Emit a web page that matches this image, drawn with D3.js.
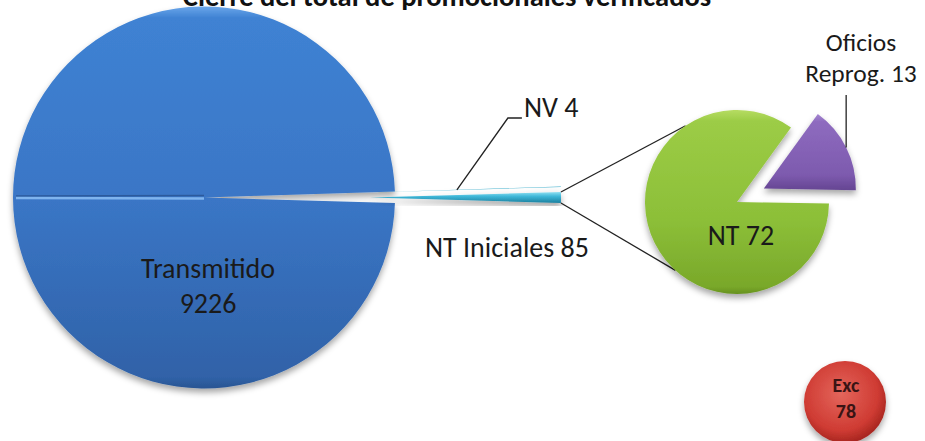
<!DOCTYPE html>
<html>
<head>
<meta charset="utf-8">
<script src="https://cdn.jsdelivr.net/npm/d3@7"></script>
<style>
  html, body { margin: 0; padding: 0; background: #fff; }
  svg { display: block; font-family: Carlito, Lato, sans-serif; }
</style>
</head>
<body>
<svg></svg>
<script>
const title = "Cierre del total de promocionales verificados";

// main pie
const mainLabels = ["Transmitido", "NV", "NT Iniciales"];
const mainValues = [9226, 4, 85];

// secondary pie (breakdown of NT Iniciales)
const subLabels = ["NT", "Oficios Reprog."];
const subValues = [72, 13];

// separate bubble
const extraLabel = "Exc";
const extraValue = 78;

const width = 925, height = 441;
const fontSize = 28;

const main = { cx: 204, cy: 197.5, r: 191, explode: 166 };
const sub = { cx: 737, cy: 202, r: 92, explode: 30 };

const svg = d3.select("svg")
    .attr("width", width)
    .attr("height", height);

const defs = svg.append("defs");

const shadow = defs.append("filter")
    .attr("id", "shadow")
    .attr("x", "-20%").attr("y", "-20%")
    .attr("width", "140%").attr("height", "140%");
shadow.append("feDropShadow")
    .attr("dx", 0).attr("dy", 4)
    .attr("stdDeviation", 3)
    .attr("flood-color", "#000")
    .attr("flood-opacity", 0.35);

function grad(id, stops) {
    const g = defs.append("linearGradient")
        .attr("id", id)
        .attr("x1", 0).attr("y1", 0).attr("x2", 0).attr("y2", 1);
    stops.forEach(s => g.append("stop").attr("offset", s[0]).attr("stop-color", s[1]));
}

grad("gBlue", [[0, "#6aa6ea"], [0.03, "#3f82d3"], [0.5, "#3a76c6"], [0.97, "#3062a8"], [1, "#2a5592"]]);
grad("gCyan", [[0, "#8fe0f2"], [0.4, "#3fb7d8"], [1, "#1b7f9e"]]);
grad("gGreen", [[0, "#b6dc62"], [0.06, "#9ccc46"], [0.6, "#8cbf38"], [0.96, "#79a82a"], [1, "#66911f"]]);
grad("gPurple", [[0, "#a486d0"], [0.1, "#8e6bbf"], [0.8, "#7d5aae"], [1, "#654592"]]);

const rad = defs.append("radialGradient")
    .attr("id", "gRed")
    .attr("cx", "45%").attr("cy", "40%").attr("r", "60%");
rad.append("stop").attr("offset", 0).attr("stop-color", "#e4665c");
rad.append("stop").attr("offset", 0.75).attr("stop-color", "#cf3b33");
rad.append("stop").attr("offset", 1).attr("stop-color", "#a82620");

// title (sits partly above the window, as in the reference)
svg.append("text")
    .attr("x", 447)
    .attr("y", 6)
    .attr("text-anchor", "middle")
    .attr("font-weight", "bold")
    .attr("font-size", 28.5)
    .attr("fill", "#111")
    .text(title);

// ---- main pie
const mainTotal = d3.sum(mainValues);
const halfSmall = mainValues[2] / mainTotal * Math.PI;
const mainPie = d3.pie().sort(null).value(d => d)
    .startAngle(Math.PI / 2 + halfSmall)
    .endAngle(Math.PI / 2 + halfSmall + 2 * Math.PI);
const mainArcs = mainPie(mainValues);
const mainArc = d3.arc().innerRadius(0).outerRadius(main.r);

const mid = d => (d.startAngle + d.endAngle) / 2;
const offset = (d, dist) => [dist * Math.sin(mid(d)), -dist * Math.cos(mid(d))];

const mainFills = ["url(#gBlue)", "#2aa5c6", "url(#gCyan)"];

const gMain = svg.append("g")
    .attr("transform", `translate(${main.cx},${main.cy})`);

// connector lines from the exploded slice to the secondary pie
const small = mainArcs[2];
const [sx, sy] = offset(small, main.explode);
const pt = (a, r) => [r * Math.sin(a), -r * Math.cos(a)];
const endTop = pt(small.startAngle, main.r);
const endBot = pt(small.endAngle - 2 * Math.PI, main.r);
const subTop = pt(-34 * Math.PI / 180, sub.r);
const subBot = pt(-138 * Math.PI / 180, sub.r);
svg.append("g")
    .attr("stroke", "#222")
    .attr("stroke-width", 1.3)
    .selectAll("line")
    .data([[endTop, subTop], [endBot, subBot]])
    .enter().append("line")
    .attr("x1", d => main.cx + sx + d[0][0])
    .attr("y1", d => main.cy + sy + d[0][1])
    .attr("x2", d => sub.cx + d[1][0])
    .attr("y2", d => sub.cy + d[1][1]);

gMain.selectAll("path")
    .data(mainArcs)
    .enter().append("path")
    .attr("d", mainArc)
    .attr("transform", (d, i) => {
        const o = i === 0 ? [0, 0] : offset(d, main.explode);
        return `translate(${o[0]},${o[1]})`;
    })
    .attr("fill", (d, i) => mainFills[i])
    .attr("filter", "url(#shadow)");

// bevel seam across the left half of the big slice
gMain.append("line")
    .attr("x1", -main.r + 3).attr("y1", -1.5)
    .attr("x2", 0).attr("y2", -2)
    .attr("stroke", "#2c5a9c").attr("stroke-width", 1.4);
gMain.append("line")
    .attr("x1", -main.r + 3).attr("y1", 0.5)
    .attr("x2", 0).attr("y2", 1)
    .attr("stroke", "#7fb4ee").attr("stroke-width", 2.4);

// Transmitido label
gMain.append("text")
    .attr("text-anchor", "middle")
    .attr("font-size", fontSize)
    .attr("fill", "#1a1a1a")
    .selectAll("tspan")
    .data([mainLabels[0], mainValues[0]])
    .enter().append("tspan")
    .attr("x", 4)
    .attr("y", (d, i) => 80.5 + i * 35)
    .text(d => d);

// NV label with leader
const nv = mainArcs[1];
const [nx, ny] = offset(nv, main.explode);
const nvPt = pt(mid(nv), 87);
const nvX = main.cx + nx + nvPt[0], nvY = main.cy + ny + nvPt[1];
svg.append("polyline")
    .attr("points", [[nvX, nvY], [nvX + 51, 118], [nvX + 65, 118]].map(p => p.join(",")).join(" "))
    .attr("fill", "none")
    .attr("stroke", "#222")
    .attr("stroke-width", 1.3);
svg.append("text")
    .attr("x", nvX + 67)
    .attr("y", 117)
    .attr("font-size", fontSize)
    .attr("fill", "#1a1a1a")
    .text(`${mainLabels[1]} ${mainValues[1]}`);

// NT Iniciales label
svg.append("text")
    .attr("x", main.cx + sx + main.r - 54)
    .attr("y", 257)
    .attr("text-anchor", "middle")
    .attr("font-size", fontSize)
    .attr("fill", "#1a1a1a")
    .text(`${mainLabels[2]} ${mainValues[2]}`);

// ---- secondary pie
const subStart = 91 * Math.PI / 180;
const subPie = d3.pie().sort(null).value(d => d)
    .startAngle(subStart)
    .endAngle(subStart + 2 * Math.PI);
const subArcs = subPie(subValues);
const subArc = d3.arc().innerRadius(0).outerRadius(sub.r);
const subFills = ["url(#gGreen)", "url(#gPurple)"];

const gSub = svg.append("g")
    .attr("transform", `translate(${sub.cx},${sub.cy})`);

gSub.selectAll("path")
    .data(subArcs)
    .enter().append("path")
    .attr("d", subArc)
    .attr("transform", (d, i) => {
        const o = i === 0 ? [0, 0] : offset(d, sub.explode);
        return `translate(${o[0]},${o[1]})`;
    })
    .attr("fill", (d, i) => subFills[i])
    .attr("filter", "url(#shadow)");

gSub.append("text")
    .attr("x", 4)
    .attr("y", 43)
    .attr("text-anchor", "middle")
    .attr("font-size", fontSize)
    .attr("fill", "#1a1a1a")
    .text(`${subLabels[0]} ${subValues[0]}`);

// Oficios label + leader
const pu = subArcs[1];
const [px, py] = offset(pu, sub.explode);
const puPt = pt(mid(pu), sub.r);
const puX = sub.cx + px + puPt[0], puY = sub.cy + py + puPt[1];
svg.append("line")
    .attr("x1", puX).attr("y1", puY)
    .attr("x2", puX).attr("y2", 95)
    .attr("stroke", "#222")
    .attr("stroke-width", 1.3);
svg.append("text")
    .attr("text-anchor", "middle")
    .attr("font-size", 25.5)
    .attr("fill", "#1a1a1a")
    .selectAll("tspan")
    .data(["Oficios", "Reprog. " + subValues[1]])
    .enter().append("tspan")
    .attr("x", 861)
    .attr("y", (d, i) => 51 + i * 31)
    .text(d => d);

// ---- Exc bubble
const gExc = svg.append("g")
    .attr("transform", "translate(845,402)");
gExc.append("circle")
    .attr("r", 41)
    .attr("fill", "url(#gRed)")
    .attr("filter", "url(#shadow)");
gExc.append("text")
    .attr("text-anchor", "middle")
    .attr("font-size", 20)
    .attr("font-weight", 600)
    .attr("fill", "#3a1414")
    .selectAll("tspan")
    .data([extraLabel, extraValue])
    .enter().append("tspan")
    .attr("x", 1)
    .attr("y", (d, i) => -10 + i * 26)
    .text(d => d);
</script>
</body>
</html>
